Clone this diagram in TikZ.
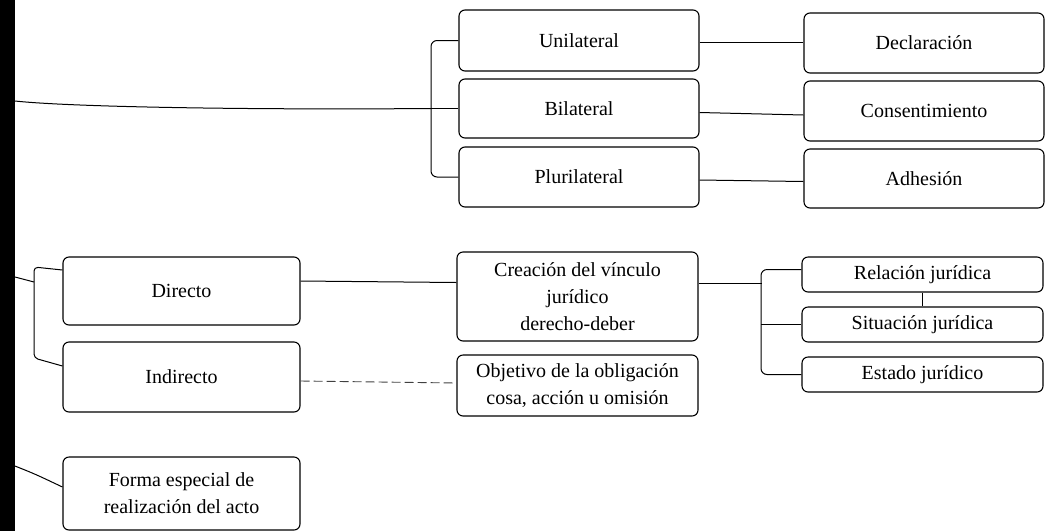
\documentclass[tikz,border=0pt]{standalone}
\usepackage{fontspec}
\setmainfont{Liberation Serif}
\begin{document}
\begin{tikzpicture}[x=1pt,y=-1pt,
  box/.style={draw, line width=1.1pt, rounded corners=6pt, align=center,
    inner sep=2pt, font=\fontsize{20}{27}\selectfont},
  link/.style={line width=1pt},
  faint/.style={line width=0.9pt, black!75, dash pattern=on 9pt off 4pt}
]
\useasboundingbox (0,0) rectangle (1059,531);
% left margin band
\fill (0,0) rectangle (15,531);

% upper group
\node[box, minimum width=240pt, minimum height=61pt] (uni) at (579,40.5) {Unilateral};
\node[box, minimum width=240pt, minimum height=59pt] (bil) at (579,108.5) {Bilateral};
\node[box, minimum width=240pt, minimum height=60pt] (plu) at (579,177) {Plurilateral};
\node[box, minimum width=240pt, minimum height=60pt] (dec) at (924,43) {Declaración};
\node[box, minimum width=240pt, minimum height=60pt] (con) at (924,111) {Consentimiento};
\node[box, minimum width=240pt, minimum height=59pt] (adh) at (924,178.5) {Adhesión};

% lower group
\node[box, minimum width=237pt, minimum height=68pt] (dir) at (181.5,291) {Directo};
\node[box, minimum width=237pt, minimum height=70pt] (ind) at (181.5,377) {Indirecto};
\node[box, minimum width=237pt, minimum height=73pt] (esp) at (181.5,493.5) {Forma especial de\\realización del acto};
\node[box, minimum width=241pt, minimum height=89pt] (cre) at (577.5,296.5) {Creación del vínculo\\jurídico\\derecho-deber};
\node[box, minimum width=241pt, minimum height=61pt] (obj) at (577.5,385.5) {Objetivo de la obligación\\cosa, acción u omisión};
\node[box, minimum width=241pt, minimum height=35pt] (rel) at (922.5,274.5) {Relación jurídica};
\node[box, minimum width=241pt, minimum height=35pt] (sit) at (922.5,324.5) {Situación jurídica};
\node[box, minimum width=241pt, minimum height=35pt] (est) at (922.5,374.5) {Estado jurídico};

% branch points
\coordinate (s1) at (15,101);
\coordinate (s2) at (15,277);
\coordinate (s3) at (15,466);
\coordinate (b1) at (431,110);
\coordinate (b2) at (761,320);
\coordinate (b3) at (34,282);
\coordinate (b3t) at (34,267);
\coordinate (b3b) at (34,358);

% upper connectors
\draw[link] (s1) .. controls (70,107) and (250,110) .. (b1 |- bil.west);
\draw[link, rounded corners=6pt] (uni.west) -| (b1) |- (plu.west);
\draw[link] (b1 |- bil.west) -- (bil.west);
\draw[link] ([yshift=-1.5pt]uni.east) -- ([yshift=1pt]dec.west);
\draw[link] ([yshift=-4pt]bil.east) -- ([yshift=-4pt]con.west);
\draw[link] ([yshift=-3pt]plu.east) -- ([yshift=-3pt]adh.west);

% lower connectors
\draw[link] (s2) -- (b3);
\draw[link, rounded corners=4pt] ([yshift=21pt]dir.west) -- (b3t) -- (b3b) -- ([yshift=11pt]ind.west);
\draw[link] (s3) .. controls (35,474) .. ([yshift=6.5pt]esp.west);
\draw[link] ([yshift=10pt]dir.east) -- ([yshift=14pt]cre.west);
\draw[faint] ([yshift=-4pt]ind.east) -- ([yshift=2.5pt]obj.west);
\draw[link] ([yshift=13pt]cre.east) -- ++(63,0);
\draw[link, rounded corners=6pt] ([yshift=5pt]rel.west) -| (b2) |- (est.west);
\draw[link] (b2 |- sit.west) -- (sit.west);
\draw[link] (rel.south) -- (sit.north);
\end{tikzpicture}
\end{document}
